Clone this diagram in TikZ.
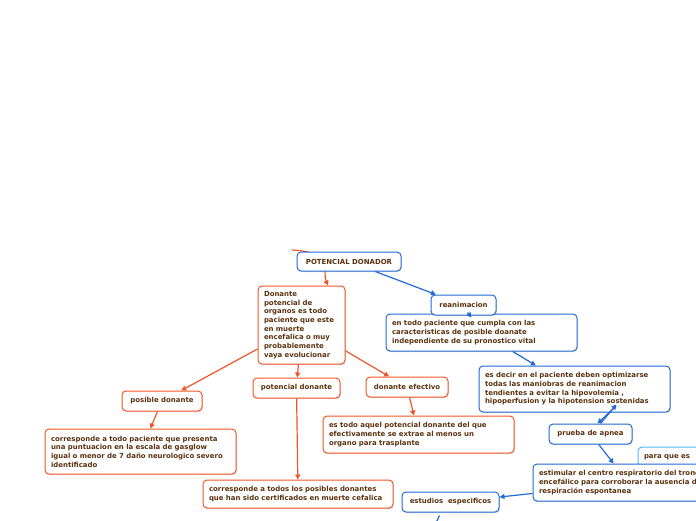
\documentclass[tikz,border=0pt]{standalone}
\usepackage{fontspec}
\setmainfont{DejaVu Sans}
\usetikzlibrary{arrows.meta,shadows,backgrounds}

\definecolor{mmblue}{RGB}{35,105,215}
\definecolor{mmorange}{RGB}{240,85,40}
\definecolor{mmcyan}{RGB}{80,185,240}
\definecolor{textbrown}{RGB}{90,50,15}

\begin{document}
\begin{tikzpicture}[
    x=1pt, y=-1pt,
    box/.style={draw, rounded corners=4pt, fill=white, line width=1pt, text=textbrown,
        font=\fontsize{6.95}{8.7}\selectfont\bfseries, inner xsep=6pt, inner ysep=3pt,
        drop shadow={shadow xshift=0.8pt, shadow yshift=-1.2pt, opacity=0.25}},
    bluebox/.style={box, draw=mmblue},
    orangebox/.style={box, draw=mmorange},
    bluearrow/.style={-{Triangle[length=5pt,width=5pt]}, line width=1.2pt, draw=mmblue},
    orangearrow/.style={-{Triangle[length=5pt,width=5pt]}, line width=1.2pt, draw=mmorange}
]
\useasboundingbox (0,0) rectangle (696,520);

% central node and the blue branch
\node[bluebox, minimum width=104pt, minimum height=19pt] (donador) at (349,261.5) {POTENCIAL DONADOR};
\node[bluebox, text width=179pt, minimum height=37pt, align=left] (entodo) at (481.5,332.5)
    {en todo paciente que cumpla con las\\caracteristicas de posible doanate\\independiente de su pronostico vital};
\node[bluebox, minimum width=65pt, minimum height=20pt] (reanim) at (463.5,305) {reanimacion};
\node[bluebox, text width=179pt, minimum height=46pt, align=left] (esdecir) at (574.5,389)
    {es decir en el paciente deben optimizarse\\todas las maniobras de reanimacion\\tendientes a evitar la hipovolemia ,\\hipoperfusion y la hipotension sostenidas};
\node[bluebox, minimum width=83pt, minimum height=20pt] (apnea) at (590.5,434) {prueba de apnea};
\node[box, draw=mmcyan, text width=62pt, minimum height=20pt, align=left] (paraque) at (675,457) {para que es};
\node[bluebox, text width=179pt, minimum height=37pt, align=left] (estimular) at (628.5,482.5)
    {estimular el centro respiratorio del tronco\\encefálico para corroborar la ausencia de\\respiración espontanea};
\node[bluebox, minimum width=97pt, minimum height=20pt] (estudios) at (450.5,502) {estudios\ \ especificos};
\coordinate (estudiosout) at (434,527);

% orange branch
\node[orangebox, text width=75pt, minimum height=78pt, align=left] (donante) at (301.5,325)
    {Donante\\potencial de\\organos es todo\\paciente que este\\en muerte\\encefalica o muy\\probablemente\\vaya evolucionar};
\node[orangebox, minimum width=80pt, minimum height=20pt] (posible) at (162,401) {posible donante};
\node[orangebox, text width=179pt, minimum height=45pt, align=left] (posibletxt) at (140.5,451.5)
    {corresponde a todo paciente que presenta\\una puntuacion en la escala de gasglow\\igual o menor de 7 daño neurologico severo\\identificado};
\node[orangebox, minimum width=87pt, minimum height=20pt] (potencial) at (296.5,388) {potencial donante};
\node[orangebox, text width=178pt, minimum height=28pt, align=left] (potencialtxt) at (298,494)
    {corresponde a todos los posibles donantes\\que han sido certificados en muerte cefalica};
\node[orangebox, minimum width=82pt, minimum height=20pt] (efectivo) at (407,387) {donante efectivo};
\node[orangebox, text width=179pt, minimum height=37pt, align=left] (efectivotxt) at (418.5,434.5)
    {es todo aquel potencial donante del que\\efectivamente se extrae al menos un\\organo para trasplante};

\coordinate (donadortail) at (292,250);
\begin{scope}[on background layer]
\draw[orangearrow] (donadortail) .. controls (335,252) and (322,272) .. ([xshift=26.5pt]donante.north);
\end{scope}

\draw[bluearrow] (donador) -- (reanim);
\draw[bluearrow] ([xshift=4pt,yshift=3pt]reanim.south) -- ([xshift=-10pt,yshift=-4pt]entodo.north);
\draw[bluearrow] (entodo) -- (esdecir);
\draw[bluearrow] ([xshift=40pt,yshift=5pt]esdecir.south) -- ([xshift=7pt]apnea.north);
\draw[bluearrow] ([xshift=10pt]apnea.north) -- ([xshift=42pt,yshift=8pt]esdecir.south);
\draw[bluearrow] (apnea) -- (estimular);
\draw[bluearrow] ([yshift=-11pt]estimular.west) -- ([yshift=5pt]estudios.east);
\draw[line width=1.2pt, mmblue] ([xshift=-11pt,yshift=-3pt]estudios.south) -- (estudiosout);

\draw[orangearrow] (donante) -- (posible);
\draw[orangearrow] (donante) -- (potencial);
\draw[orangearrow] (donante) -- (efectivo);
\draw[orangearrow] (posible) -- (posibletxt);
\draw[orangearrow] (potencial) -- (potencialtxt);
\draw[orangearrow] (efectivo) -- (efectivotxt);
\end{tikzpicture}
\end{document}
